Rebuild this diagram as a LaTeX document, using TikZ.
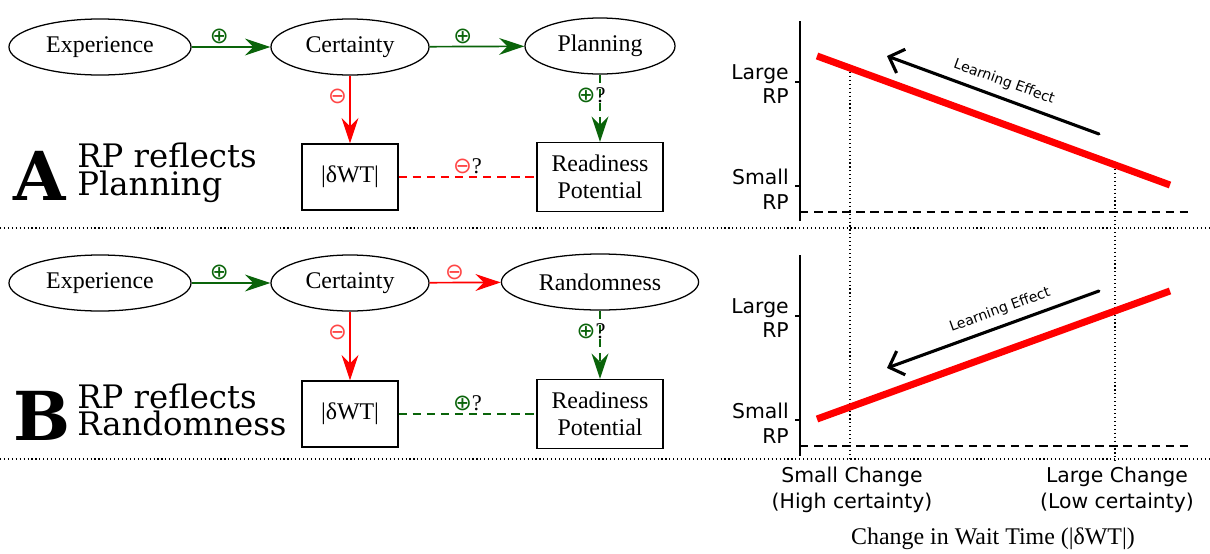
\documentclass[tikz,border=0pt]{standalone}
\usepackage{fontspec}
\setmainfont{Liberation Serif}
\newfontfamily\titrefont{DejaVu Serif}
\newfontfamily\axefont{DejaVu Sans}
\usetikzlibrary{shapes.geometric,arrows.meta}
\definecolor{vert}{RGB}{10,100,10}
\definecolor{rouge}{RGB}{255,0,0}
\definecolor{rougeclair}{RGB}{255,70,70}

\newcommand{\plus}{{\axefont ⊕}}
\newcommand{\moins}{{\axefont ⊖}}

\tikzset{
  etat/.style={draw, ellipse, line width=0.9pt, inner sep=0pt, minimum height=1.4cm,
    font=\fontsize{17}{19}\selectfont},
  boite/.style={draw, rectangle, line width=0.9pt, inner sep=0pt, align=center,
    font=\fontsize{17}{19}\selectfont},
  fleche/.style={line width=1.2pt, -{Stealth[length=18pt,width=12pt,inset=6pt]}},
  tirets/.style={line width=1.2pt, dash pattern=on 6pt off 4pt},
  signe/.style={font=\fontsize{16}{16}\selectfont, inner sep=1.5pt},
  lettre/.style={font=\titrefont\bfseries\fontsize{48}{48}\selectfont, inner sep=0pt},
  titre/.style={font=\titrefont\fontsize{23}{19.5}\selectfont, align=left, inner sep=0pt},
  etiq/.style={font=\axefont\fontsize{14.5}{17.5}\selectfont, align=right, inner sep=0pt},
  effet/.style={line width=2.2pt, line cap=round, -{Straight Barb[length=9pt,width=18pt]}},
  apprent/.style={font=\axefont\fontsize{10}{10}\selectfont, inner sep=0pt},
  courbe/.style={rouge, line width=5pt},
  repere/.style={dotted, line width=0.8pt},
  fond/.style={line width=0.8pt, dash pattern=on 6pt off 4pt},
}

\begin{document}
\begin{tikzpicture}[x=0.025cm, y=-0.025cm]
    \useasboundingbox (0,0) rectangle (1210,553);

    % Schéma A : le RP reflète la planification
    \node[etat, minimum width=4.55cm] (expA) at (100,47) {Experience};
    \node[etat, minimum width=3.95cm] (certA) at (350,47) {Certainty};
    \node[etat, minimum width=3.75cm] (planA) at (600,46) {Planning};
    \node[boite, minimum width=2.4cm, minimum height=1.65cm] (dwtA) at (350,177) {|δWT|};
    \node[boite, minimum width=3.15cm, minimum height=1.725cm] (rpA) at (600,177) {Readiness\\Potential};

    \draw[fleche, vert] (expA) -- node[signe, above, pos=0.35] {\plus} (certA);
    \draw[fleche, vert] (certA) -- node[signe, above, pos=0.35] {\plus} (planA);
    \draw[fleche, rouge] (certA) -- node[signe, left, pos=0.3, rougeclair] {\moins} (dwtA);
    \draw[fleche, vert, tirets] (planA) -- node[signe, left, pos=0.3, xshift=6pt] {\plus\textcolor{black}{?}} (rpA);
    \draw[tirets, rouge] (dwtA) -- node[signe, above, rougeclair] {\moins\textcolor{black}{?}} (rpA);

    \node[lettre, anchor=base west] (lettreA) at (13,200) {A};
    \node[titre, anchor=west] (titreA) at (77,173) {RP reflects\\Planning};

    % Schéma B : le RP reflète le hasard
    \node[etat, minimum width=4.55cm] (expB) at (100,283) {Experience};
    \node[etat, minimum width=3.95cm] (certB) at (350,283) {Certainty};
    \node[etat, minimum width=4.93cm] (hasB) at (600,282) {Randomness};
    \node[boite, minimum width=2.4cm, minimum height=1.65cm] (dwtB) at (350,414) {|δWT|};
    \node[boite, minimum width=3.15cm, minimum height=1.725cm] (rpB) at (600,414) {Readiness\\Potential};

    \draw[fleche, vert] (expB) -- node[signe, above, pos=0.35] {\plus} (certB);
    \draw[fleche, rouge] (certB) -- node[signe, above, pos=0.35, rougeclair] {\moins} (hasB);
    \draw[fleche, rouge] (certB) -- node[signe, left, pos=0.3, rougeclair] {\moins} (dwtB);
    \draw[fleche, vert, tirets] (hasB) -- node[signe, left, pos=0.3, xshift=6pt] {\plus\textcolor{black}{?}} (rpB);
    \draw[tirets, vert] (dwtB) -- node[signe, above] {\plus\textcolor{black}{?}} (rpB);

    \node[lettre, anchor=base west] (lettreB) at (13,440) {B};
    \node[titre, anchor=west] (titreB) at (77,410) {RP reflects\\Randomness};

    % Séparateurs
    \draw[repere] (0,228) -- (1210,228);
    \draw[repere] (0,459) -- (1210,459);

    % Graphe du haut
    \draw[line width=1pt] (800,21) -- (800,221);
    \draw[line width=1pt] (795,82) -- (800,82);
    \draw[line width=1pt] (795,186) -- (800,186);
    \draw[fond] (800,212) -- (1188,212);
    \node[etiq, anchor=east] (grandA) at (789,84) {Large\\RP};
    \node[etiq, anchor=east] (petitA) at (789,189) {Small\\RP};
    \draw[repere] (850,68) -- (850,461);
    \draw[repere] (1115,165) -- (1115,461);
    \draw[courbe] (817,56) -- (1170,185);
    \coordinate (debA) at (1099,134);
    \coordinate (finA) at (887,56);
    \draw[effet] (debA) -- (finA);
    \node[apprent, rotate=-20] (apprA) at (1004,82) {Learning Effect};

    % Graphe du bas
    \draw[line width=1pt] (800,255) -- (800,456);
    \draw[line width=1pt] (795,316) -- (800,316);
    \draw[line width=1pt] (795,420) -- (800,420);
    \draw[fond] (800,446) -- (1188,446);
    \node[etiq, anchor=east] (grandB) at (789,318) {Large\\RP};
    \node[etiq, anchor=east] (petitB) at (789,423) {Small\\RP};
    \draw[courbe] (817,419) -- (1170,291);
    \coordinate (debB) at (1099,291);
    \coordinate (finB) at (887,368);
    \draw[effet] (debB) -- (finB);
    \node[apprent, rotate=20] (apprB) at (1000,310) {Learning Effect};

    % Axe des abscisses
    \node[etiq, align=center, font=\axefont\fontsize{14.5}{19}\selectfont] (faible) at (852,490) {Small Change\\(High certainty)};
    \node[etiq, align=center, font=\axefont\fontsize{14.5}{19}\selectfont] (forte) at (1117,490) {Large Change\\(Low certainty)};
    \node[font=\fontsize{17}{19}\selectfont, inner sep=0pt] (titreX) at (993,539) {Change in Wait Time (|δWT|)};
\end{tikzpicture}
\end{document}
